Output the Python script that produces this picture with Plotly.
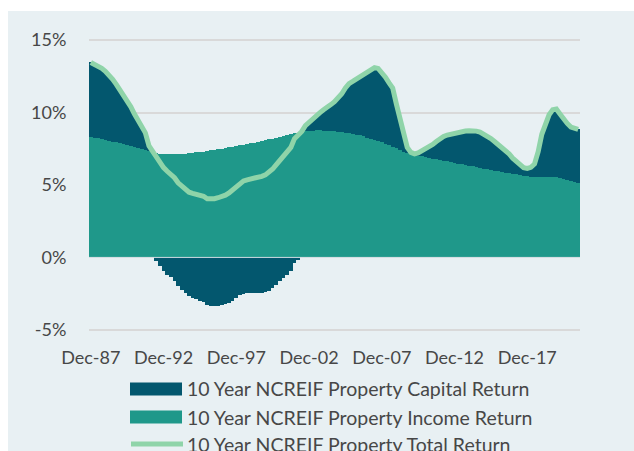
import plotly.graph_objects as go

# Quarterly periods, Dec-87 .. Jun-21
months = ["Mar", "Jun", "Sep", "Dec"]
quarters = ["Dec-87"]
for yr in range(1988, 2022):
    for m in months:
        quarters.append(f"{m}-{str(yr)[2:]}")
quarters = quarters[:135]

tick_labels = ["Dec-87", "Dec-92", "Dec-97", "Dec-02", "Dec-07", "Dec-12", "Dec-17"]

income_return = [
    8.30, 8.26, 8.22, 8.18, 8.12, 8.06, 8.00, 7.94, 7.88, 7.82,
    7.76, 7.70, 7.64, 7.58, 7.50, 7.42, 7.34, 7.26, 7.20, 7.16,
    7.14, 7.13, 7.13, 7.13, 7.14, 7.15, 7.17, 7.19, 7.22, 7.25,
    7.28, 7.31, 7.35, 7.39, 7.43, 7.47, 7.51, 7.55, 7.60, 7.65,
    7.70, 7.74, 7.78, 7.82, 7.87, 7.92, 7.97, 8.03, 8.09, 8.15,
    8.21, 8.27, 8.33, 8.39, 8.45, 8.51, 8.57, 8.62, 8.67, 8.71,
    8.74, 8.76, 8.77, 8.77, 8.76, 8.75, 8.73, 8.71, 8.68, 8.65,
    8.61, 8.57, 8.53, 8.48, 8.42, 8.35, 8.28, 8.20, 8.12, 8.03,
    7.94, 7.84, 7.74, 7.64, 7.53, 7.42, 7.31, 7.22, 7.16, 7.08,
    7.03, 6.98, 6.93, 6.88, 6.83, 6.78, 6.73, 6.68, 6.63, 6.58,
    6.53, 6.48, 6.43, 6.38, 6.33, 6.28, 6.23, 6.18, 6.13, 6.08,
    6.03, 5.99, 5.94, 5.90, 5.85, 5.81, 5.77, 5.73, 5.69, 5.65,
    5.61, 5.58, 5.56, 5.55, 5.55, 5.54, 5.54, 5.53, 5.52, 5.48,
    5.42, 5.35, 5.27, 5.19, 5.11,
]

total_return = [
    13.46, 13.35, 13.22, 13.05, 12.85, 12.60, 12.30, 11.95, 11.60, 11.25,
    10.85, 10.40, 9.90, 9.50, 9.10, 8.60, 7.70, 7.30, 6.95, 6.60,
    6.20, 5.95, 5.75, 5.50, 5.15, 4.90, 4.70, 4.50, 4.42, 4.35,
    4.28, 4.22, 4.05, 4.02, 4.05, 4.12, 4.20, 4.30, 4.45, 4.65,
    4.90, 5.12, 5.28, 5.36, 5.41, 5.46, 5.52, 5.60, 5.70, 5.85,
    6.10, 6.40, 6.72, 6.98, 7.25, 7.60, 8.20, 8.45, 8.70, 9.10,
    9.35, 9.60, 9.80, 10.00, 10.20, 10.35, 10.55, 10.75, 11.00, 11.30,
    11.70, 12.00, 12.15, 12.30, 12.50, 12.65, 12.80, 12.95, 13.10, 13.05,
    12.80, 12.45, 12.05, 11.70, 10.60, 9.50, 8.40, 7.60, 7.25, 7.15,
    7.22, 7.35, 7.50, 7.65, 7.80, 8.00, 8.20, 8.35, 8.45, 8.52,
    8.60, 8.65, 8.70, 8.73, 8.75, 8.75, 8.72, 8.65, 8.52, 8.40,
    8.20, 8.00, 7.80, 7.60, 7.40, 7.15, 6.85, 6.60, 6.35, 6.20,
    6.15, 6.22, 6.45, 7.30, 8.50, 9.30, 9.85, 10.20, 10.25, 9.90,
    9.55, 9.25, 9.00, 8.88, 8.84,
]

capital_return = [round(t - i, 2) for t, i in zip(total_return, income_return)]

names = [
    "10 Year NCREIF Property Capital Return",
    "10 Year NCREIF Property Income Return",
    "10 Year NCREIF Property Total Return",
]
C_CAP = "#03576e"
C_INC = "#1f988a"
C_TOT = "#8fd4a9"
BG = "#e8f0f3"
TXT = "#474747"
FONT = "Lato"

fig = go.Figure()
fig.add_trace(go.Bar(x=quarters, y=income_return, name=names[1],
                     marker=dict(color=C_INC, line=dict(width=0))))
fig.add_trace(go.Bar(x=quarters, y=capital_return, name=names[0],
                     marker=dict(color=C_CAP, line=dict(width=0))))
fig.add_trace(go.Scatter(x=quarters, y=total_return, name=names[2], mode="lines",
                         line=dict(color=C_TOT, width=5)))

W, H = 634, 451
L, R, T, B = 89, 54, 38, 119
pw, ph = W - L - R, H - T - B

def px_x(p):
    return (p - L) / pw

def px_y(p):
    return (H - B - p) / ph

shapes = [
    dict(type="rect", xref="paper", yref="paper", x0=px_x(8), x1=px_x(640),
         y0=px_y(460), y1=px_y(11), fillcolor=BG, line=dict(width=0), layer="below"),
    dict(type="line", xref="paper", yref="y", x0=0, x1=1, y0=0, y1=0,
         line=dict(color="#d3dfe3", width=1), layer="above"),
]
annotations = []
rows = [389, 417, 444]
for k, (nm, yc) in enumerate(zip(names, rows)):
    if k < 2:
        shapes.append(dict(type="rect", xref="paper", yref="paper",
                           x0=px_x(130), x1=px_x(182), y0=px_y(yc + 6.5), y1=px_y(yc - 6.5),
                           fillcolor=[C_CAP, C_INC][k], line=dict(width=0)))
    else:
        shapes.append(dict(type="line", xref="paper", yref="paper",
                           x0=px_x(131), x1=px_x(183), y0=px_y(yc), y1=px_y(yc),
                           line=dict(color=C_TOT, width=5)))
    annotations.append(dict(xref="paper", yref="paper", x=px_x(185), y=px_y(yc),
                            text=nm, showarrow=False, xanchor="left", yanchor="middle",
                            font=dict(family=FONT, size=19.5, color=TXT)))

fig.update_layout(
    width=W, height=H,
    margin=dict(l=L, r=R, t=T, b=B, pad=0),
    paper_bgcolor="white", plot_bgcolor=BG,
    barmode="relative", bargap=0,
    showlegend=False,
    font=dict(family=FONT, size=18, color=TXT),
    shapes=shapes, annotations=annotations,
    xaxis=dict(type="category", tickmode="array", tickvals=tick_labels, ticktext=tick_labels,
               showgrid=False, zeroline=False, showline=False,
               ticks="outside", ticklen=9, tickcolor="rgba(0,0,0,0)", tickangle=0,
               tickfont=dict(family=FONT, size=18, color=TXT)),
    yaxis=dict(range=[-5.15, 15.15], tickvals=[-5, 0, 5, 10, 15],
               ticktext=["-5%", "0%", "5%", "10%", "15%"],
               showgrid=True, gridcolor="#d9d9d9", gridwidth=1.5, zeroline=False,
               ticks="outside", ticklen=18, tickcolor="rgba(0,0,0,0)",
               tickfont=dict(family=FONT, size=18, color=TXT)),
)

fig.write_html("out.html", config={"displayModeBar": False},
               post_script="document.body.style.margin='0';document.body.style.overflow='hidden';")
